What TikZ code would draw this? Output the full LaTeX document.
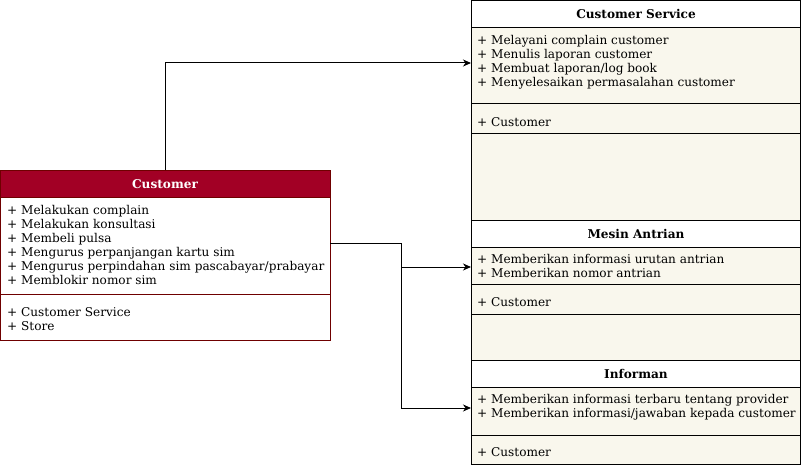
\documentclass[tikz,border=0pt]{standalone}
\usepackage{fontspec}
\setmainfont{DejaVu Serif}
\usetikzlibrary{arrows.meta}
\definecolor{hdrred}{HTML}{A20025}
\definecolor{bordred}{HTML}{6F0000}
\definecolor{cream}{HTML}{F9F7ED}
\begin{document}
\begin{tikzpicture}[x=1pt,y=-1pt,
  comp/.style={draw, line width=1pt, inner sep=0pt, outer sep=0pt, anchor=north west},
  rcomp/.style={comp, minimum width=329.5pt, fill=cream},
  rhead/.style={comp, minimum width=329.5pt, fill=white},
  lcomp/.style={comp, minimum width=329.5pt, draw=bordred, fill=white},
  txt/.style={anchor=north west, align=left, inner sep=0pt, font=\fontsize{12.1}{14}\selectfont},
  ttl/.style={inner sep=0pt, anchor=base, font=\bfseries\fontsize{12.1}{14}\selectfont},
  conn/.style={line width=1pt, -{Stealth[length=8pt,width=7pt,inset=2.5pt]}}]
\useasboundingbox (0,0) rectangle (801,468);

% Customer Service
\node[rhead, minimum height=28pt] (csH) at (471,0.5) {};
\node[rcomp, minimum height=76pt] (csA) at (471,28) {};
\node[rcomp, minimum height=30pt] (csM) at (471,104) {};
\node[rcomp, minimum height=86pt] (csE) at (471,134) {};
\node[ttl] (csT) at (636,18.5) {Customer Service};
\node[txt] (csAt) at (477,34.7) {\strut + Melayani complain customer\\+ Menulis laporan customer\\+ Membuat laporan/log book\\+ Menyelesaikan permasalahan customer};
\node[txt] (csMt) at (477,116.7) {\strut + Customer};

% Mesin Antrian
\node[rhead, minimum height=27pt] (maH) at (471,220) {};
\node[rcomp, minimum height=37pt] (maA) at (471,247) {};
\node[rcomp, minimum height=30pt] (maM) at (471,284) {};
\node[rcomp, minimum height=46pt] (maE) at (471,314) {};
\node[ttl] (maT) at (636,238.5) {Mesin Antrian};
\node[txt] (maAt) at (477,253.7) {\strut + Memberikan informasi urutan antrian\\+ Memberikan nomor antrian};
\node[txt] (maMt) at (477,296.7) {\strut + Customer};

% Informan
\node[rhead, minimum height=27pt] (inH) at (471,360) {};
\node[rcomp, minimum height=48pt] (inA) at (471,387) {};
\node[rcomp, minimum height=29.5pt] (inM) at (471,435) {};
\node[ttl] (inT) at (636,378.5) {Informan};
\node[txt] (inAt) at (477,393.7) {\strut + Memberikan informasi terbaru tentang provider\\+ Memberikan informasi/jawaban kepada customer};
\node[txt] (inMt) at (477,446.7) {\strut + Customer};

% Customer
\node[lcomp, fill=hdrred, minimum height=27pt] (cuH) at (0.5,170.5) {};
\node[lcomp, minimum height=97pt] (cuA) at (0.5,197.5) {};
\node[lcomp, minimum height=45.5pt] (cuM) at (0.5,294.5) {};
\node[ttl, text=white] (cuT) at (165,188.5) {Customer};
\node[txt] (cuAt) at (7,204.2) {\strut + Melakukan complain\\+ Melakukan konsultasi\\+ Membeli pulsa\\+ Mengurus perpanjangan kartu sim\\+ Mengurus perpindahan sim pascabayar/prabayar\\+ Memblokir nomor sim};
\node[txt] (cuMt) at (7,306.2) {\strut + Customer Service\\+ Store};

% connectors
\coordinate (csIn) at (471,63);
\coordinate (cuOut) at (330,243);
\coordinate (split) at (401,243);
\coordinate (maIn) at (471,267);
\coordinate (inIn) at (471,408);
\draw[conn] (cuH.north) |- (csIn);
\draw[conn] (cuOut) -- (split) |- (maIn);
\draw[conn] (split) |- (inIn);
\end{tikzpicture}
\end{document}
